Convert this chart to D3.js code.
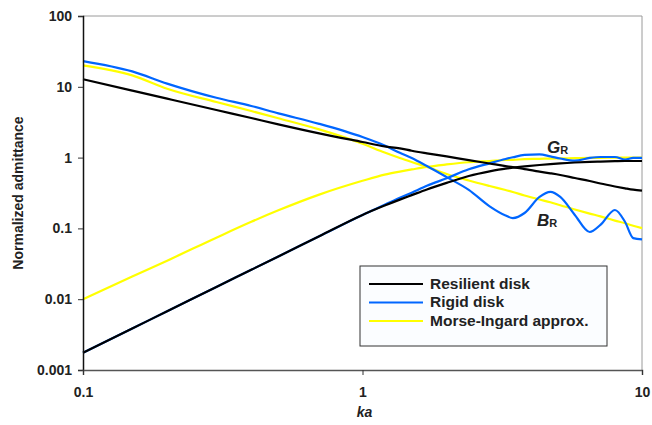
<!DOCTYPE html>
<html>
<head>
<meta charset="utf-8">
<script src="https://cdn.jsdelivr.net/npm/d3@7/dist/d3.min.js"></script>
<style>
  body { margin: 0; background: #fff; }
  text { font-family: "Liberation Sans", Arial, sans-serif; }
</style>
</head>
<body>
<script>
var w = 652;
var h = 425;

// ka grid shared by all curves
var ka = [0.1, 0.15, 0.2, 0.3, 0.4, 0.5, 0.7, 1, 1.2, 1.36, 1.5, 1.7, 2, 2.4, 2.85,
          3.25, 3.45, 3.8, 4.3, 4.7, 5.1, 5.75, 6.5, 7.1, 8, 8.7, 9.3, 10];

// susceptance (falling curves)
var resilientB = [12.8, 8.84, 6.8, 4.7, 3.62, 2.95, 2.2, 1.66, 1.44, 1.35, 1.25, 1.15, 1.04, 0.92, 0.826,
                  0.76, 0.735, 0.686, 0.634, 0.6, 0.568, 0.515, 0.467, 0.43, 0.391, 0.368, 0.352, 0.341];
var rigidB = [23.1, 16.5, 11.1, 7.0, 5.36, 4.22, 3.0, 1.95, 1.48, 1.17, 0.99, 0.76, 0.53, 0.35, 0.205,
              0.152, 0.14, 0.165, 0.278, 0.327, 0.278, 0.155, 0.089, 0.112, 0.182, 0.123, 0.073, 0.07];
var morseB = [20.1, 14.5, 9.4, 6.1, 4.55, 3.6, 2.5, 1.57, 1.18, 0.987, 0.867, 0.74, 0.586, 0.475, 0.397,
              0.348, 0.327, 0.292, 0.256, 0.234, 0.212, 0.185, 0.162, 0.148, 0.129, 0.118, 0.109, 0.101];

// conductance (rising curves)
var resilientG = [0.00175, 0.00386, 0.00675, 0.0149, 0.026, 0.0401, 0.0775, 0.155, 0.21, 0.255, 0.295, 0.355, 0.44, 0.55, 0.64,
                  0.7, 0.72, 0.75, 0.786, 0.81, 0.83, 0.853, 0.87, 0.88, 0.89, 0.895, 0.895, 0.895];
var rigidG = [0.00175, 0.00386, 0.00675, 0.0149, 0.026, 0.0401, 0.0775, 0.155, 0.215, 0.27, 0.32, 0.4, 0.51, 0.684, 0.83,
              0.955, 1.01, 1.09, 1.11, 1.04, 0.97, 0.904, 0.99, 1.02, 1.02, 0.94, 0.99, 0.99];
var morseG = [0.01, 0.021, 0.035, 0.074, 0.124, 0.18, 0.3, 0.47, 0.575, 0.635, 0.68, 0.74, 0.8, 0.86, 0.895,
              0.925, 0.93, 0.95, 0.96, 0.97, 0.975, 0.98, 0.99, 0.99, 1.0, 1.0, 1.0, 1.0];

var yTicks = [0.001, 0.01, 0.1, 1, 10, 100];
var yTickLabels = ["0.001", "0.01", "0.1", "1", "10", "100"];
var xTicks = [0.1, 1, 10];
var xTickLabels = ["0.1", "1", "10"];

var seriesNames = ["Resilient disk", "Rigid disk", "Morse-Ingard approx."];
var seriesColors = ["#000000", "#0066ff", "#ffff00"];

var padLeft = 83, padRight = 642, padTop = 16, padBottom = 370;

var xScale = d3.scaleLog().domain([0.1, 10]).range([padLeft, padRight]);
var yScale = d3.scaleLog().domain([0.001, 100]).range([padBottom, padTop]);

var svg = d3.select("body")
    .append("svg")
    .attr("width", w)
    .attr("height", h);

// frame: top and right borders
svg.append("line")
    .attr("x1", padLeft).attr("x2", padRight).attr("y1", padTop).attr("y2", padTop)
    .attr("stroke", "#9a9a9a").attr("stroke-width", 1);
svg.append("line")
    .attr("x1", padRight).attr("x2", padRight).attr("y1", padTop).attr("y2", padBottom)
    .attr("stroke", "#9a9a9a").attr("stroke-width", 1);

var line = d3.line()
    .x(function(d){ return xScale(d[0]); })
    .y(function(d){ return yScale(d[1]); })
    .curve(d3.curveMonotoneX);

function pairs(vals){
    return ka.map(function(k, i){ return [k, vals[i]]; });
}

// draw order: yellow, blue, black on top
var curves = [
    {vals: morseB, color: seriesColors[2]},
    {vals: morseG, color: seriesColors[2]},
    {vals: rigidB, color: seriesColors[1]},
    {vals: rigidG, color: seriesColors[1]},
    {vals: resilientB, color: seriesColors[0]},
    {vals: resilientG, color: seriesColors[0]}
];

svg.selectAll("path.curve")
    .data(curves)
    .enter()
    .append("path")
    .attr("class", "curve")
    .attr("d", function(d){ return line(pairs(d.vals)); })
    .attr("fill", "none")
    .attr("stroke", function(d){ return d.color; })
    .attr("stroke-width", 2.2)
    .attr("stroke-linejoin", "round");

// axes
var yAxis = d3.axisLeft(yScale)
    .tickValues(yTicks)
    .tickFormat(function(d, i){ return yTickLabels[i]; })
    .tickSize(5)
    .tickPadding(6);

var gy = svg.append("g")
    .attr("transform", "translate(" + padLeft + ",0)")
    .call(yAxis);
gy.select(".domain").attr("stroke", "#111").attr("stroke-width", 1.5);
gy.selectAll(".tick line").attr("stroke", "#333");
gy.selectAll("text")
    .style("font-size", "14px")
    .style("font-weight", "bold")
    .attr("fill", "#222");

var xAxis = d3.axisBottom(xScale)
    .tickValues(xTicks)
    .tickFormat(function(d, i){ return xTickLabels[i]; })
    .tickSize(5)
    .tickPadding(12);

var gx = svg.append("g")
    .attr("transform", "translate(0," + padBottom + ")")
    .call(xAxis);
gx.select(".domain").attr("stroke", "#555").attr("stroke-width", 1.5);
gx.selectAll(".tick line").attr("stroke", "#333");
gx.selectAll("text")
    .style("font-size", "14px")
    .style("font-weight", "bold")
    .attr("fill", "#222");

// axis titles
svg.append("text")
    .attr("transform", "translate(23," + ((padTop + padBottom) / 2) + ") rotate(-90)")
    .attr("text-anchor", "middle")
    .style("font-size", "14px")
    .style("font-weight", "bold")
    .attr("fill", "#222")
    .text("Normalized admittance");

svg.append("text")
    .attr("x", (padLeft + padRight) / 2 + 2)
    .attr("y", 417)
    .attr("text-anchor", "middle")
    .style("font-size", "14px")
    .style("font-weight", "bold")
    .style("font-style", "italic")
    .attr("fill", "#222")
    .text("ka");

// curve labels
var gLab = svg.append("text")
    .attr("x", 547).attr("y", 153)
    .attr("fill", "#222")
    .style("font-weight", "bold");
gLab.append("tspan").style("font-size", "17px").style("font-style", "italic").text("G");
gLab.append("tspan").style("font-size", "11px").attr("dy", 1).text("R");

var bLab = svg.append("text")
    .attr("x", 537).attr("y", 226)
    .attr("fill", "#222")
    .style("font-weight", "bold");
bLab.append("tspan").style("font-size", "17px").style("font-style", "italic").text("B");
bLab.append("tspan").style("font-size", "11px").attr("dy", 1).text("R");

// legend
var legend = svg.append("g");
legend.append("rect")
    .attr("x", 360).attr("y", 266)
    .attr("width", 247).attr("height", 80)
    .attr("fill", "#fbfdff")
    .attr("stroke", "#333")
    .attr("stroke-width", 1);

var rows = legend.selectAll("g.row")
    .data(seriesNames)
    .enter()
    .append("g")
    .attr("class", "row")
    .attr("transform", function(d, i){ return "translate(0," + (284 + i * 18.5) + ")"; });

rows.append("line")
    .attr("x1", 369).attr("x2", 423)
    .attr("stroke", function(d, i){ return seriesColors[i]; })
    .attr("stroke-width", 2.2);

rows.append("text")
    .attr("x", 430)
    .attr("y", 4.5)
    .style("font-size", "15.5px")
    .style("font-weight", "bold")
    .attr("fill", "#222")
    .text(function(d){ return d; });
</script>
</body>
</html>
